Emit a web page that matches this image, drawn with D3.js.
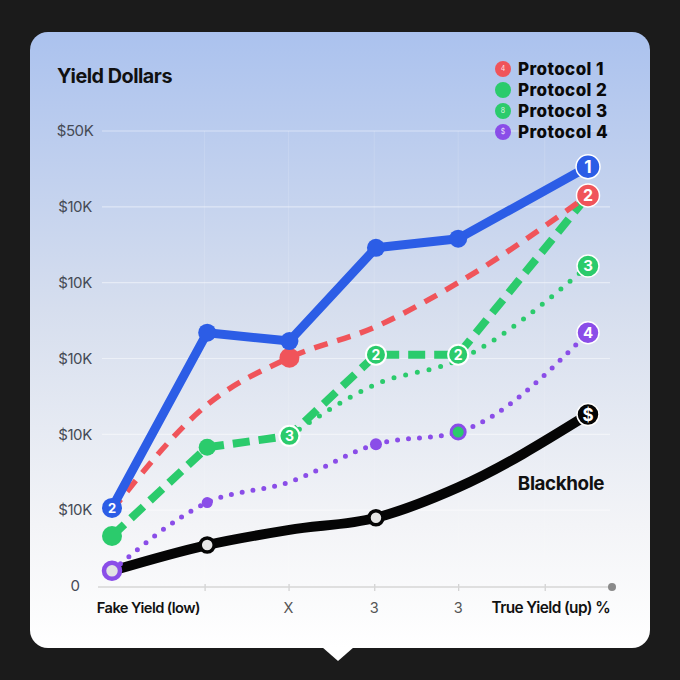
<!DOCTYPE html>
<html><head><meta charset="utf-8">
<script src="https://cdn.jsdelivr.net/npm/d3@7"></script>
<style>html,body{margin:0;padding:0;background:#1b1b1b;}svg{display:block;}</style>
</head><body>
<script>
// ---- data ----
const xPos = [0, 1.1, 2.05, 3.05, 4, 5.5];
const xTickLabels = ["Fake Yield (low)", "X", "3", "3", "True Yield (up) %"];
const yTickLabels = ["0", "$10K", "$10K", "$10K", "$10K", "$10K", "$50K"];
const seriesNames = ["Protocol 1", "Protocol 2", "Protocol 3", "Protocol 4"];
const protocol1 = [1.03, 3.34, 3.23, 4.46, 4.58, 5.53];
const protocol2 = [1.0, 2.39, 3.01, 3.42, 4.0, 5.15];
const protocol3 = [0.66, 1.83, 1.98, 3.05, 3.05, 5.15];
const protocol3b = [null, null, 1.98, 2.66, 2.98, 4.22];
const protocol4 = [0.2, 1.1, 1.37, 1.87, 2.03, 3.34];
const blackhole = [0.2, 0.54, 0.74, 0.9, 1.3, 2.26];

const W = 680, H = 680;
const svg = d3.select("body").append("svg").attr("width", W).attr("height", H);
const defs = svg.append("defs");
const g = defs.append("linearGradient").attr("id","card").attr("x1",0).attr("y1",0).attr("x2",0).attr("y2",1);
g.append("stop").attr("offset","0%").attr("stop-color","#abc2ee");
g.append("stop").attr("offset","45%").attr("stop-color","#d6deee");
g.append("stop").attr("offset","80%").attr("stop-color","#f3f4f7");
g.append("stop").attr("offset","100%").attr("stop-color","#ffffff");

svg.append("rect").attr("width",W).attr("height",H).attr("fill","#1b1b1b");
svg.append("rect").attr("x",30).attr("y",32).attr("width",620).attr("height",616).attr("rx",18).attr("fill","url(#card)");
svg.append("path").attr("d","M322,647 L354,647 L338,661 Z").attr("fill","#ffffff");

const x = d3.scaleLinear().domain([0, 5.5]).range([112, 588]);
const y = d3.scaleLinear().domain([0, 6]).range([586, 131]);
const font = "Inter, 'Noto Sans', sans-serif";

// grid
const yt = d3.range(0, 7);
svg.append("g").selectAll("line").data(yt.slice(1)).join("line")
  .attr("x1",102).attr("x2",610).attr("y1",d=>y(d)).attr("y2",d=>y(d))
  .attr("stroke","#ffffff").attr("stroke-opacity",0.45).attr("stroke-width",1.2);
const xTicks = [1.07, 2.04, 3.03, 4, 5];
svg.append("g").selectAll("line").data(xTicks).join("line")
  .attr("x1",d=>x(d)).attr("x2",d=>x(d)).attr("y1",y(6)).attr("y2",y(0))
  .attr("stroke","#ffffff").attr("stroke-opacity",0.14).attr("stroke-width",1);

// y labels
svg.append("g").selectAll("text").data(yt).join("text")
  .attr("x",75).attr("y",d=>y(d)).attr("dy","0.35em").attr("text-anchor","middle")
  .attr("font-family",font).attr("font-size",15).attr("fill","#454a55")
  .attr("letter-spacing",-0.4).text(d=>yTickLabels[d]);

// x axis
const xAxis = d3.axisBottom(x).tickValues(xTicks).tickSize(4).tickSizeOuter(0).tickFormat("");
const ax = svg.append("g").attr("transform",`translate(0,${y(0)+1})`).call(xAxis);
ax.select(".domain").remove();
ax.selectAll(".tick line").attr("stroke","#d0d0d0").attr("stroke-width",1.2).attr("y1",-3);
svg.append("line").attr("x1",98).attr("x2",612).attr("y1",y(0)+1).attr("y2",y(0)+1)
  .attr("stroke","#d6d6d6").attr("stroke-width",1.5);
svg.append("circle").attr("cx",612).attr("cy",y(0)+1).attr("r",4).attr("fill","#8a8a8a");

const xl = svg.append("g").attr("font-family",font);
xl.append("text").attr("x",x(0.42)).attr("y",608).attr("dy","0.35em").attr("text-anchor","middle")
  .attr("font-size",14.7).attr("font-weight",600).attr("fill","#111").attr("letter-spacing",-0.6).text(xTickLabels[0]);
[2.04,3.03,4].forEach((v,i)=>{
  xl.append("text").attr("x",x(v)).attr("y",608).attr("dy","0.35em").attr("text-anchor","middle")
    .attr("font-size",14.5).attr("fill","#555").text(xTickLabels[i+1]);
});
xl.append("text").attr("x",x(5.07)).attr("y",608).attr("dy","0.35em").attr("text-anchor","middle")
  .attr("font-size",15.4).attr("font-weight",600).attr("fill","#111").attr("letter-spacing",-0.6).text(xTickLabels[4]);

// title
svg.append("text").attr("x",57).attr("y",83).attr("font-family",font).attr("font-size",19.8)
  .attr("font-weight",700).attr("fill","#111").attr("letter-spacing",-0.5).text("Yield Dollars");

// lines
const C = {blue:"#2c5de6", red:"#f0545a", green:"#2bcb6c", purple:"#8a4de8", black:"#050505"};
function pts(arr){ return arr.map((v,i)=>[xPos[i], v]).filter(p=>p[1]!==null); }
function drawLine(arr, color, width, dash, curve){
  const line = d3.line().x(d=>x(d[0])).y(d=>y(d[1])).curve(curve||d3.curveLinear);
  svg.append("path").attr("d", line(pts(arr))).attr("fill","none")
    .attr("stroke",color).attr("stroke-width",width)
    .attr("stroke-linecap", dash && dash[0]===0 ? "round" : "butt")
    .attr("stroke-linejoin","round")
    .attr("stroke-dasharray", dash ? dash.join(",") : null);
}
drawLine(blackhole, C.black, 10, null, d3.curveMonotoneX);
drawLine(protocol4, C.purple, 5, [0, 11], d3.curveMonotoneX);
drawLine(protocol3b, C.green, 5, [0, 12], d3.curveMonotoneX);
drawLine(protocol3, C.green, 8, [17, 9]);
drawLine(protocol2, C.red, 5.5, [14, 10], d3.curveMonotoneX);
drawLine(protocol1, C.blue, 9);

// markers
function marker(arr, i, color, r, opts){
  opts = opts || {};
  const cx = x(xPos[i]), cy = y(arr[i]);
  svg.append("circle").attr("cx",cx).attr("cy",cy).attr("r",r)
    .attr("fill", opts.fill || color)
    .attr("stroke", opts.stroke || (opts.ring ? color : "none"))
    .attr("stroke-width", opts.sw || 0);
  if (opts.label) svg.append("text").attr("x",cx).attr("y",cy).attr("dy","0.36em")
    .attr("text-anchor","middle").attr("font-family",font).attr("font-weight",700)
    .attr("font-size",opts.fs || 14).attr("fill","#fff").text(opts.label);
}
// black
marker(blackhole,1,C.black,7,{fill:"#e6e6e6",stroke:C.black,sw:3.5});
marker(blackhole,3,C.black,7,{fill:"#e6e6e6",stroke:C.black,sw:3.5});
marker(blackhole,5,C.black,11,{stroke:"#fff",sw:1.5,label:"$",fs:17});
// purple
marker(protocol4,0,C.purple,8,{fill:"#e2e2e4",stroke:C.purple,sw:4.5});
marker(protocol4,1,C.purple,5.5);
marker(protocol4,3,C.purple,6);
marker(protocol4,4,C.purple,7,{fill:C.green,stroke:C.purple,sw:3});
marker(protocol4,5,C.purple,11,{stroke:"#fff",sw:1.5,label:"4",fs:15});
// green dotted end
marker(protocol3b,5,C.green,11,{stroke:"#fff",sw:1.5,label:"3",fs:15});
// green dashed
marker(protocol3,0,C.green,10);
marker(protocol3,1,C.green,8.5);
marker(protocol3,2,C.green,10,{stroke:"#fff",sw:2,label:"3",fs:14});
marker(protocol3,3,C.green,10,{stroke:"#fff",sw:2,label:"2",fs:14});
marker(protocol3,4,C.green,10,{stroke:"#fff",sw:2,label:"2",fs:14});
// red
marker(protocol2,2,C.red,10);
marker(protocol2,5,C.red,11.5,{stroke:"#fff",sw:1.5,label:"2",fs:16});
// blue
marker(protocol1,0,C.blue,10,{label:"2",fs:13});
[1,2,3,4].forEach(i=>marker(protocol1,i,C.blue,9));
marker(protocol1,5,C.blue,12,{stroke:"#fff",sw:1.5,label:"1",fs:17});

// Blackhole label
svg.append("text").attr("x",561).attr("y",483).attr("dy","0.35em").attr("text-anchor","middle")
  .attr("font-family",font).attr("font-size",18.8).attr("font-weight",700).attr("fill","#111")
  .attr("letter-spacing",-0.4).text("Blackhole");

// legend
const legColors = [C.red, C.green, C.green, C.purple];
const legGlyph = ["4", "", "8", "$"];
const leg = svg.append("g").attr("font-family",font);
seriesNames.forEach((n,i)=>{
  const ly = 69 + i*21;
  leg.append("circle").attr("cx",503).attr("cy",ly).attr("r",8).attr("fill",legColors[i]);
  if (legGlyph[i]) leg.append("text").attr("x",503).attr("y",ly).attr("dy","0.35em").attr("text-anchor","middle")
    .attr("font-size",7).attr("fill","#fff").attr("fill-opacity",0.85).text(legGlyph[i]);
  leg.append("text").attr("x",518).attr("y",ly).attr("dy","0.36em").attr("font-size",17)
    .attr("font-weight",800).attr("fill","#0a0a0a").attr("letter-spacing",0.4).text(n);
});
</script>
</body></html>
